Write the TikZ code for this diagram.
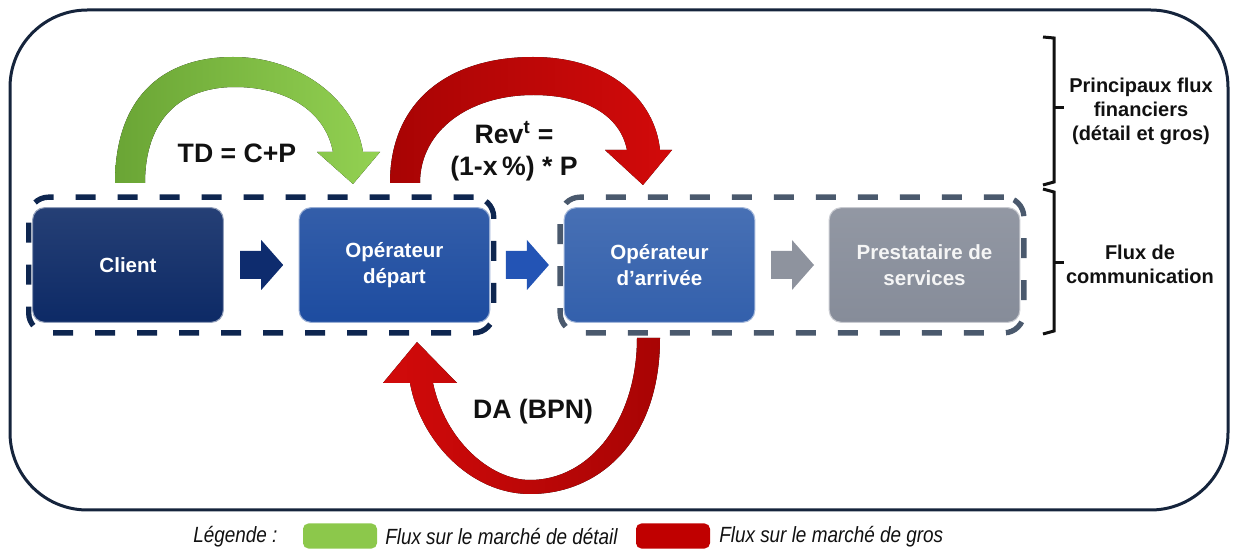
\documentclass[tikz,border=0pt]{standalone}
\usepackage{fontspec}
\setmainfont{Liberation Sans}
\usetikzlibrary{positioning,calc,fit}

\definecolor{frame}{HTML}{15243C}
\definecolor{clientc}{HTML}{0D2A66}
\definecolor{departc}{HTML}{1D4CA0}
\definecolor{arrivc}{HTML}{3360AC}
\definecolor{prestc}{HTML}{868C99}
\definecolor{navyarr}{HTML}{0E2C6E}
\definecolor{bluearr}{HTML}{2354B5}
\definecolor{greyarr}{HTML}{8E939E}
\definecolor{grpA}{HTML}{0E2650}
\definecolor{grpB}{HTML}{4A596D}
\definecolor{grnD}{HTML}{6AA535}
\definecolor{grnL}{HTML}{93D152}
\definecolor{redD}{HTML}{A80404}
\definecolor{redL}{HTML}{D20A0A}
\definecolor{legG}{HTML}{8CC84B}
\definecolor{legR}{HTML}{C00000}
\definecolor{ink}{HTML}{111111}

\tikzset{
  frame/.style={draw=frame, line width=2.25pt, rounded corners=58pt},
  box/.style={rounded corners=9pt, minimum width=143pt, minimum height=86pt,
    draw=#1!45!white, line width=0.8pt, top color=#1!90!white, bottom color=#1,
    text=white, align=center, font=\fontsize{15.4}{20}\selectfont\bfseries},
  grp/.style={draw=#1, line width=4pt, rounded corners=15pt,
    dash pattern=on 15pt off 16.5pt, inner xsep=2.6pt, inner ysep=7.5pt},
  flow/.style={text=ink, align=center, font=\fontsize{20}{22}\selectfont\bfseries},
  side/.style={text=ink, align=center, font=\fontsize{15}{18}\selectfont\bfseries},
  brk/.style={draw=ink, line width=2.25pt},
  swatch/.style={fill=#1, rounded corners=4pt, minimum width=55.5pt, minimum height=18.75pt, inner sep=0pt},
  legtxt/.style={text=ink, anchor=west, inner sep=0pt, font=\fontsize{16.5}{18}\selectfont\itshape},
  pics/blockarr/.style={code={
    \fill[#1] (-21,-14) -- (0,-14) -- (0,-25) -- (22,0) -- (0,25) -- (0,14) -- (-21,14) -- cycle;
  }}
}

\begin{document}
\begin{tikzpicture}[x=0.75pt, y=-0.75pt]
	\useasboundingbox (0,0) rectangle (1233,552);
	%frame
	\draw[frame] (10,10) rectangle (1228,510);
	%boxes
	\node[box=clientc] (client) at (128,265) {Client};
	\node[box=departc, right=56pt of client] (depart) {Opérateur\\départ};
	\node[box=arrivc, right=55pt of depart] (arrivee) {Opérateur\\d'arrivée};
	\node[box=prestc, right=55pt of arrivee, text=white!92!gray] (presta) {Prestataire de\\services};
	%groups
	\node[grp=grpA, fit=(client)(depart)] (grpdep) {};
	\node[grp=grpB, fit=(arrivee)(presta)] (grparr) {};
	%communication arrows
	\foreach \a/\b/\c in {client/depart/navyarr, depart/arrivee/bluearr, arrivee/presta/greyarr}
		\pic at ($(\a.east)!.5!(\b.west)$) {blockarr=\c};
	%financial flows
	\fill[left color=grnD, right color=grnL]
		(115,183) .. controls (115,100) and (160,57) .. (233,57)
		.. controls (300,57) and (355,100) .. (363,152)
		-- (380,152) -- (353,184) -- (317,152) -- (333,152)
		.. controls (325,110) and (285,87) .. (235,87)
		.. controls (180,87) and (145,120) .. (145,183) -- cycle;
	\fill[left color=redD, right color=redL]
		(390,183) .. controls (390,100) and (450,57) .. (533,57)
		.. controls (610,57) and (655,100) .. (660,150)
		-- (672,150) -- (643,185) -- (605,150) -- (627,150)
		.. controls (620,115) and (585,95) .. (533,95)
		.. controls (470,95) and (420,130) .. (420,183) -- cycle;
	\fill[left color=redL, right color=redD]
		(660,338) .. controls (660,440) and (600,494) .. (530,494)
		.. controls (470,494) and (420,440) .. (410,383)
		-- (383,383) -- (417,342) -- (457,383) -- (433,383)
		.. controls (445,440) and (490,480) .. (530,480)
		.. controls (590,480) and (637,420) .. (637,338) -- cycle;
	%labels
	\node[flow] (td) at (237,153) {TD = C+P};
	\node[flow] (rev) at (514,151) {Rev\textsuperscript{t} =\\[2pt](1-x\,\%) * P};
	\node[flow] (da) at (533,412) {DA (BPN)};
	%brackets
	\draw[brk] (1043,37) -- (1054,38) -- (1054,182) -- (1043,185);
	\draw[brk] (1054,108) -- (1064,108);
	\draw[brk] (1043,189) -- (1054,192) -- (1054,331) -- (1043,334);
	\draw[brk] (1054,263) -- (1064,263);
	\node[side] (fin) at (1141,111) {Principaux flux\\financiers\\(détail et gros)};
	\node[side] (com) at (1140,264) {Flux de\\communication};
	%legend
	\node[legtxt] (leg) at (193,537) {\scalebox{0.86}[1]{Légende :}};
	\node[swatch=legG] (swg) at (340,536) {};
	\node[legtxt] (legdet) at (385,537) {\scalebox{0.86}[1]{Flux sur le marché de détail}};
	\node[swatch=legR] (swr) at (673,536) {};
	\node[legtxt] (leggros) at (719,537) {\scalebox{0.86}[1]{Flux sur le marché de gros}};
\end{tikzpicture}
\end{document}
